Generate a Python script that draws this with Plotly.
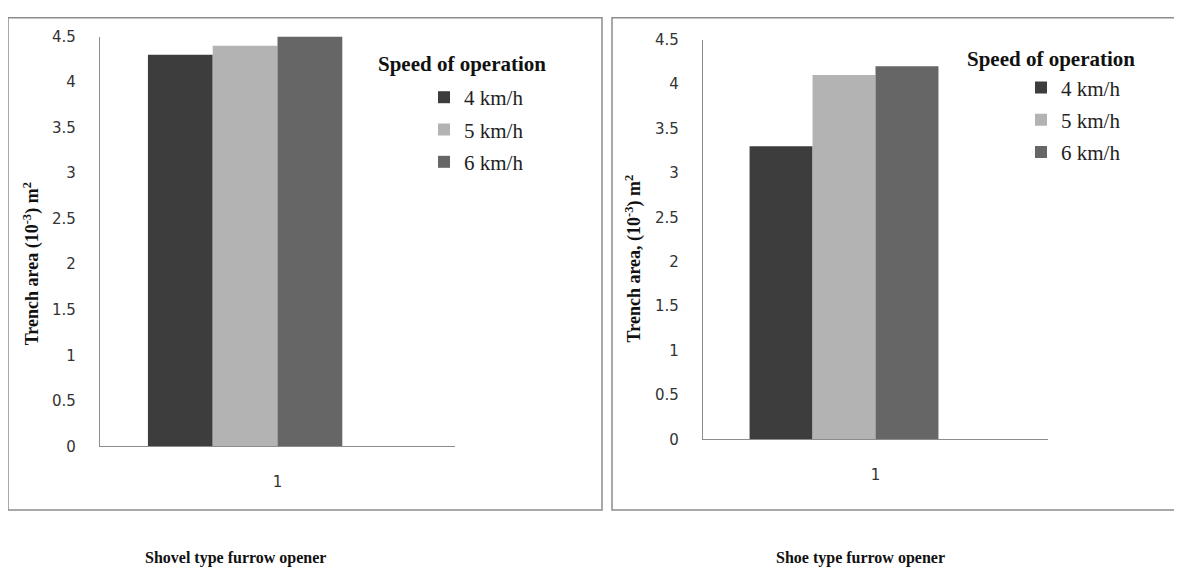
import plotly.graph_objects as go

OFF = 8
W, H = 1182 - 2 * OFF, 575

categories = ["1"]
speeds = ["4 km/h", "5 km/h", "6 km/h"]
shovel_values = [4.3, 4.4, 4.5]
shoe_values = [3.3, 4.1, 4.2]
bar_colors = ["#3d3d3d", "#b3b3b3", "#666666"]
y_ticks = [0, 0.5, 1, 1.5, 2, 2.5, 3, 3.5, 4, 4.5]
y_tick_text = ["0", "0.5", "1", "1.5", "2", "2.5", "3", "3.5", "4", "4.5"]
panel_titles = ["Shovel type furrow opener", "Shoe type furrow opener"]
y_titles = ["<b>Trench area (10<sup>-3</sup>) m<sup>2</sup></b>",
            "<b>Trench area, (10<sup>-3</sup>) m<sup>2</sup></b>"]
legend_title = "Speed of operation"

SERIF = "Liberation Serif"
SANS = "DejaVu Sans, Verdana, sans-serif"

# observed page mapping: screen_x = 8 + fig_x ; screen_y = 14.3 + 0.974 * fig_y
VY0, VYS = 14.3, 0.974


def px(x):
    return (x - OFF) / W


def fy(y):
    return (y - VY0) / VYS


def py(y):
    return 1 - fy(y) / H


fig = go.Figure()

for vals, xa, ya, leg in [(shovel_values, "x", "y", "legend"),
                          (shoe_values, "x2", "y2", "legend2")]:
    for i, (name, v) in enumerate(zip(speeds, vals)):
        fig.add_trace(go.Bar(
            x=categories, y=[v], name=name, xaxis=xa, yaxis=ya,
            marker=dict(color=bar_colors[i], line=dict(width=0)),
            legend=leg, legendgroup=f"{leg}{i}", showlegend=True,
            hoverinfo="skip"))
    # empty fourth series of the original spreadsheet chart (no data)
    fig.add_trace(go.Bar(
        x=categories, y=[None], name="", xaxis=xa, yaxis=ya,
        showlegend=False, legend=leg, hoverinfo="skip"))

axis_common = dict(
    showgrid=False, zeroline=False, showline=True, linecolor="#8c8c8c",
    linewidth=1.2, ticks="", tickfont=dict(family=SANS, size=15, color="#333333"),
)
leg_font = dict(family=SERIF, size=21, color="#222222")

fig.update_layout(
    width=W, height=H, margin=dict(l=0, r=0, t=0, b=0),
    paper_bgcolor="white", plot_bgcolor="white",
    font=dict(family=SERIF),
    barmode="group", bargroupgap=0, bargap=0.27,
    showlegend=True,
    xaxis=dict(domain=[px(100), px(455)], anchor="y", ticklabelstandoff=22,
               **axis_common),
    yaxis=dict(domain=[py(446), py(34)], anchor="x", range=[0, 4.5],
               tickvals=y_ticks, ticktext=y_tick_text, ticklabelstandoff=20,
               **axis_common),
    xaxis2=dict(domain=[px(703), px(1048)], anchor="y2", ticklabelstandoff=22,
                **axis_common),
    yaxis2=dict(domain=[py(439), py(37)], anchor="x2", range=[0, 4.5],
                tickvals=y_ticks, ticktext=y_tick_text, ticklabelstandoff=20,
                **axis_common),
    legend=dict(x=px(424), y=1 - 62 / H, xanchor="left", yanchor="top",
                bgcolor="rgba(0,0,0,0)", tracegroupgap=2, font=leg_font),
    legend2=dict(x=px(1021), y=1 - 52 / H, xanchor="left", yanchor="top",
                 bgcolor="rgba(0,0,0,0)", tracegroupgap=2, font=leg_font),
)

title_font = dict(family=SERIF, size=21, color="#111111")
cap_font = dict(family=SERIF, size=16, color="#111111")
yt_font = dict(family=SERIF, size=18, color="#111111")
annotations = [
    dict(text=f"<b>{legend_title}</b>", x=px(376), y=py(62), xanchor="left",
         yanchor="middle", font=title_font),
    dict(text=f"<b>{legend_title}</b>", x=px(965), y=py(57), xanchor="left",
         yanchor="middle", font=title_font),
    dict(text=f"<b>{panel_titles[0]}</b>", x=px(235), y=py(558), xanchor="center",
         yanchor="middle", font=cap_font),
    dict(text=f"<b>{panel_titles[1]}</b>", x=px(860), y=py(558), xanchor="center",
         yanchor="middle", font=cap_font),
    dict(text=y_titles[0], x=px(32), y=py(263), xanchor="center", yanchor="middle",
         textangle=-90, font=yt_font),
    dict(text=y_titles[1], x=px(634), y=py(257), xanchor="center", yanchor="middle",
         textangle=-90, font=yt_font),
]
for a in annotations:
    fig.add_annotation(xref="paper", yref="paper", showarrow=False, **a)

for x0, x1 in [(8, 602), (612, 1200)]:
    fig.add_shape(type="rect", xref="paper", yref="paper",
                  x0=px(x0), x1=px(x1), y0=py(510), y1=0.9985,
                  line=dict(color="#8c8c8c", width=1.5), fillcolor="rgba(0,0,0,0)")

fig.write_html("out.html")
